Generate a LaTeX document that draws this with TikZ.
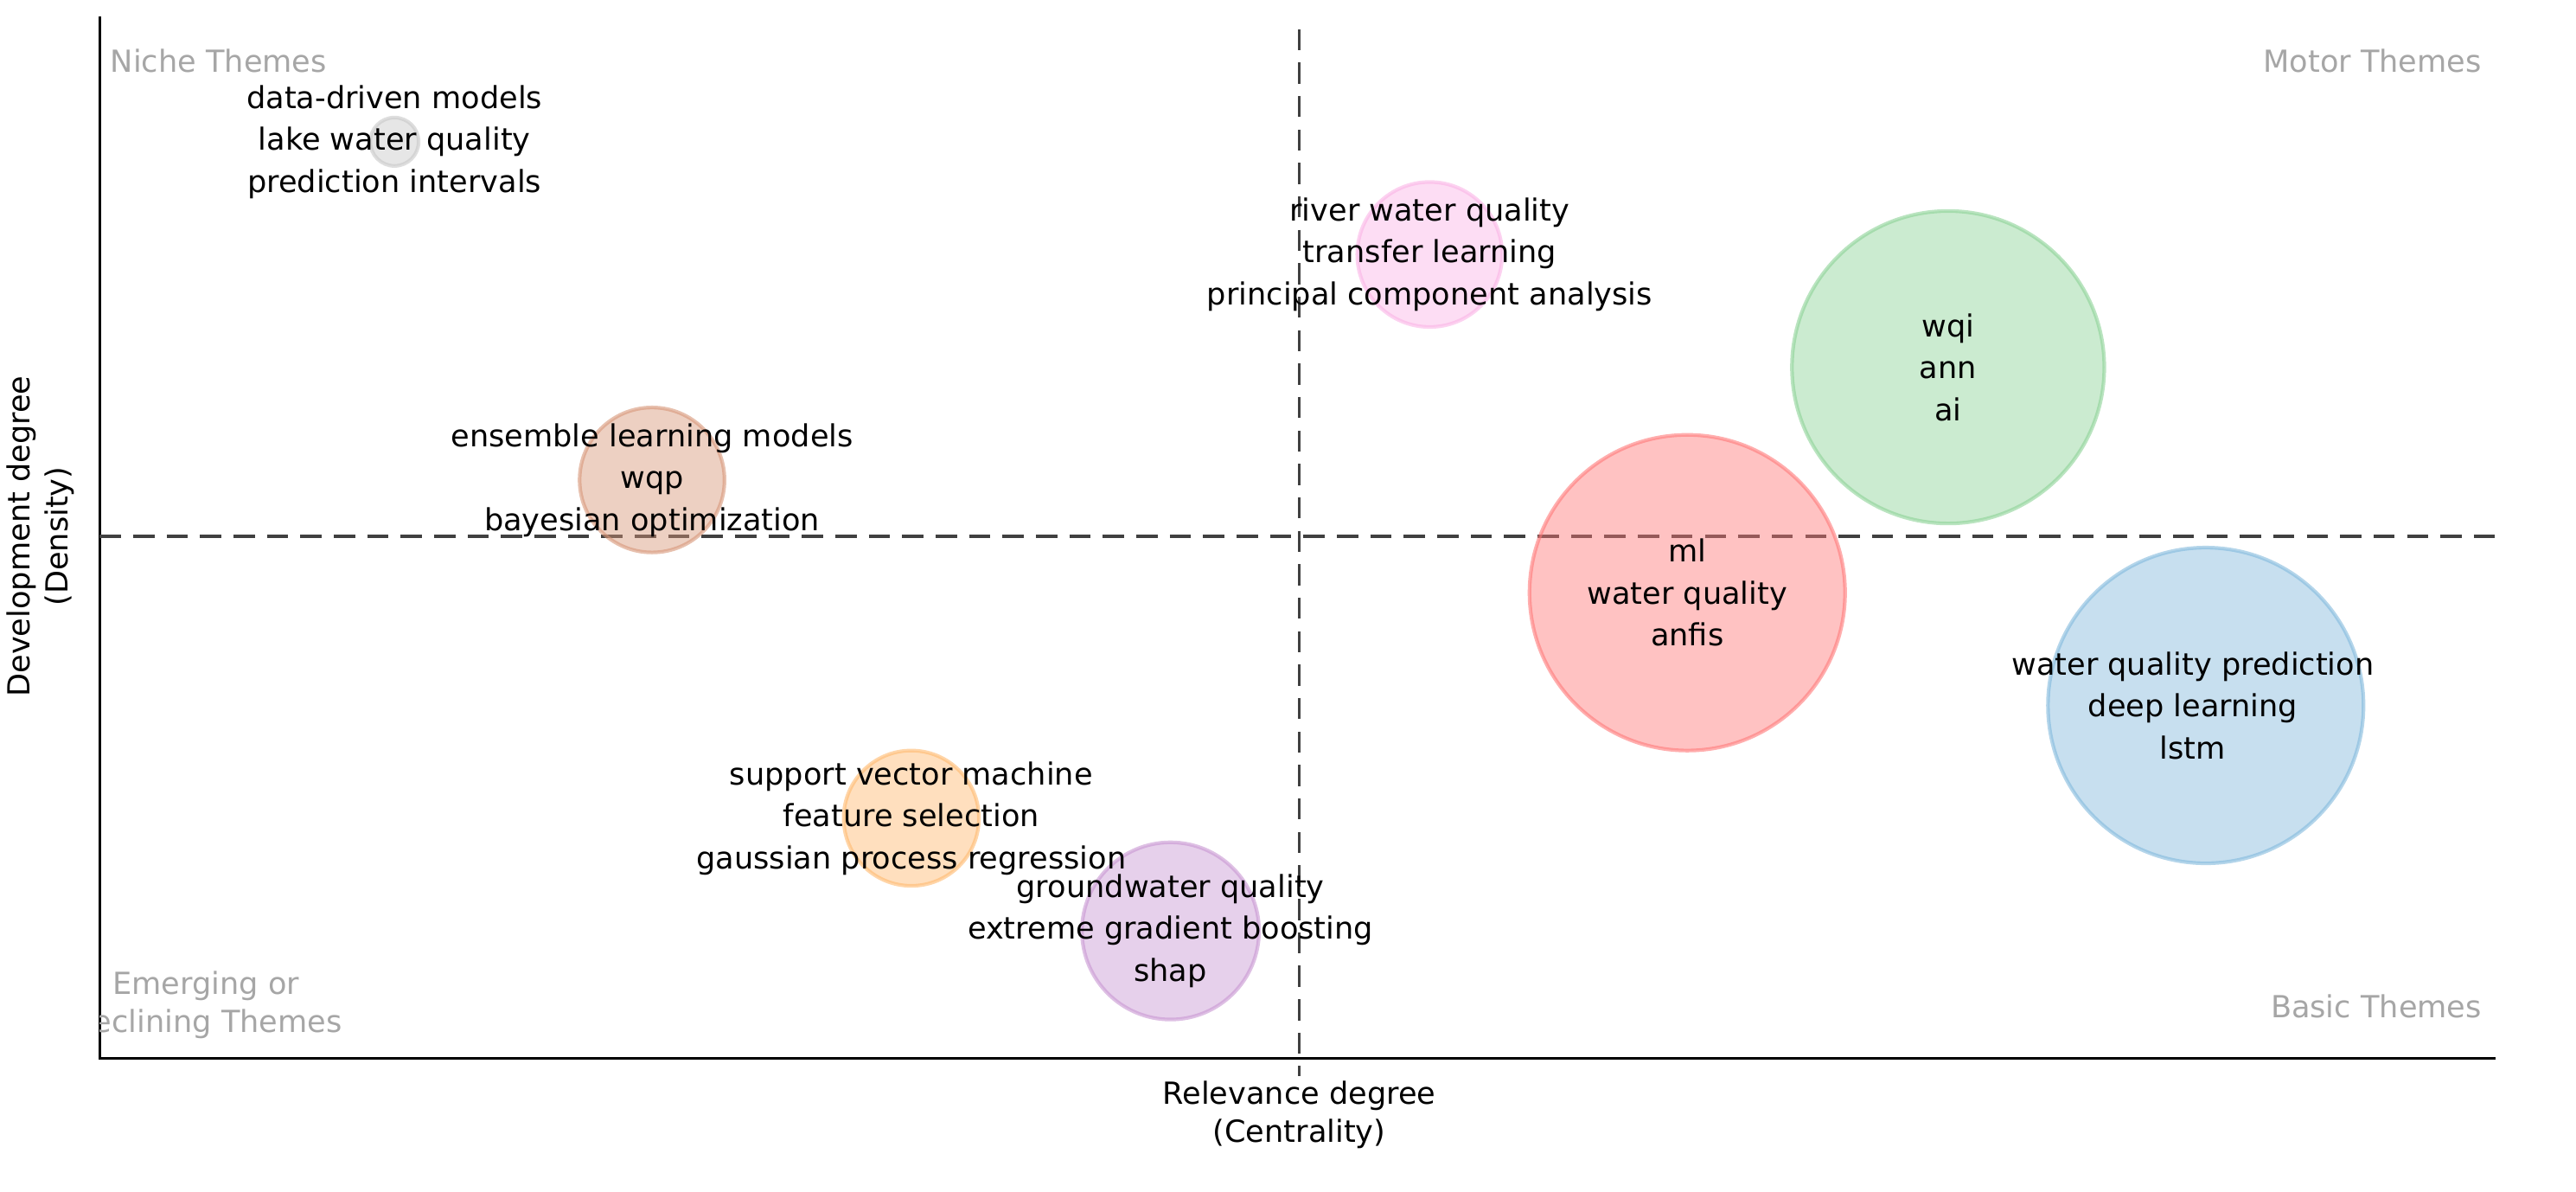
\documentclass[tikz,border=0pt]{standalone}
\usepackage{fontspec}
\setmainfont{DejaVu Sans}
\begin{document}
\begin{tikzpicture}[x=0.01862cm,y=-0.01862cm,
  bub/.style={circle,draw=#1,line width=1.2pt,fill=#1,fill opacity=0.45,draw opacity=0.6,inner sep=0pt},
  lab/.style={align=center,font=\fontsize{10}{13.8}\selectfont,text=black},
  quad/.style={font=\fontsize{10}{12.6}\selectfont,text=gray!70},
  ttl/.style={align=center,font=\fontsize{10}{12.6}\selectfont}]
\useasboundingbox (0,0) rectangle (1600,740);
\definecolor{cgrey}{RGB}{200,200,200}
\definecolor{cpink}{RGB}{250,180,230}
\definecolor{cgreen}{RGB}{140,210,150}
\definecolor{cbrown}{RGB}{215,150,120}
\definecolor{cred}{RGB}{255,120,120}
\definecolor{cblue}{RGB}{130,185,220}
\definecolor{corange}{RGB}{255,185,110}
\definecolor{cpurple}{RGB}{200,150,210}
\coordinate (o) at (62,657);
\coordinate (xe) at (1550,657);
\coordinate (ye) at (62,10);
\draw[line width=0.8pt] (ye) -- (o) -- (xe);
\coordinate (vt) at (807,18); \coordinate (vb) at (807,668);
\coordinate (hl) at (62,333); \coordinate (hr) at (1550,333);
\draw[line width=1pt,dash pattern=on 7pt off 4pt,black!75] (vt) -- (vb);
\draw[line width=1pt,dash pattern=on 7pt off 4pt,black!75] (hl) -- (hr);
\node[bub=cgrey,minimum size=30*0.01862cm] (g) at (245,88) {};
\node[bub=cpink,minimum size=90*0.01862cm] (p) at (888,158) {};
\node[bub=cgreen,minimum size=194*0.01862cm] (gr) at (1210,228) {};
\node[bub=cbrown,minimum size=90*0.01862cm] (b) at (405,298) {};
\node[bub=cred,minimum size=196*0.01862cm] (r) at (1048,368) {};
\node[bub=cblue,minimum size=196*0.01862cm] (bl) at (1370,438) {};
\node[bub=corange,minimum size=84*0.01862cm] (o1) at (566,508) {};
\node[bub=cpurple,minimum size=110*0.01862cm] (pu) at (727,578) {};
\node[lab] (tg) at (245,88) {data-driven models\\lake water quality\\prediction intervals};
\node[lab] (tp) at (888,158) {river water quality\\transfer learning\\principal component analysis};
\node[lab] (tgr) at (1210,228) {wqi\\ann\\ai};
\node[lab] (tb) at (405,298) {ensemble learning models\\wqp\\bayesian optimization};
\node[lab] (tr) at (1048,368) {ml\\water quality\\anfis};
\node[lab] (tbl) at (1362,438) {water quality prediction\\deep learning\\lstm};
\node[lab] (to) at (566,508) {support vector machine\\feature selection\\gaussian process regression};
\node[lab] (tpu) at (727,578) {groundwater quality\\extreme gradient boosting\\shap};
\node[quad,anchor=west] (q1) at (62,38) {Niche Themes};
\node[quad,anchor=east] (q2) at (1548,38) {Motor Themes};
\node[quad,anchor=east] (q4) at (1548,625) {Basic Themes};
\begin{scope}
\clip (62,590) rectangle (400,660);
\node[quad,align=center] (q3) at (128,624) {Emerging or\\Declining Themes};
\end{scope}
\node[ttl] (xt) at (807,692) {Relevance degree\\(Centrality)};
\node[ttl,rotate=90] (yt) at (25,333) {Development degree\\(Density)};
\end{tikzpicture}
\end{document}
